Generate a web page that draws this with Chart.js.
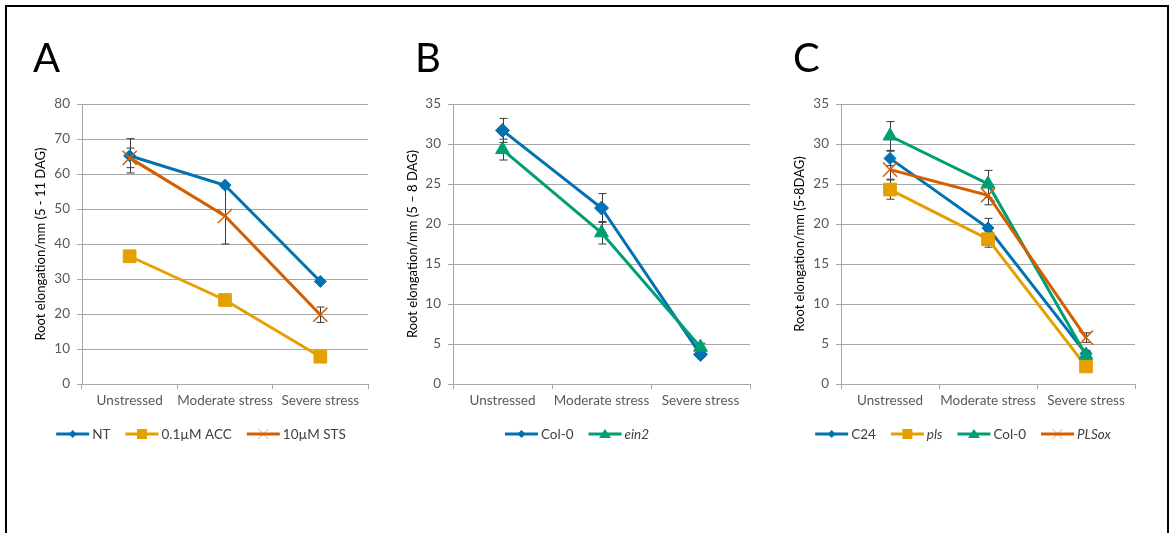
<!DOCTYPE html>
<html>
<head>
<meta charset="utf-8">
<script src="https://cdn.jsdelivr.net/npm/chart.js@4.4.0/dist/chart.umd.min.js"></script>
<style>
  body { margin: 0; background: #fff; width: 1171px; height: 533px; overflow: hidden; position: relative; }
  #frame { position: absolute; left: 5px; top: 5px; width: 1160px; height: 600px; border: 2px solid #000; border-bottom: none; }
  canvas { position: absolute; top: 20px; }
</style>
</head>
<body>
<div id="frame"></div>
<canvas id="chartA" style="left:20px"></canvas>
<canvas id="chartB" style="left:390px"></canvas>
<canvas id="chartC" style="left:770px"></canvas>
<script>
// categories shared by all three panels
const categories = ['Unstressed', 'Moderate stress', 'Severe stress'];

// Panel A
const ntMean  = [65.2, 56.8, 29.3];
const ntErr   = [4.9, 0, 0];
const accMean = [36.5, 24.0, 7.8];
const accErr  = [0, 0, 0];
const stsMean = [64.6, 48.0, 19.8];
const stsErr  = [2.8, 8.0, 2.2];
const ticksA  = [0, 10, 20, 30, 40, 50, 60, 70, 80];

// Panel B
const col0BMean = [31.7, 22.0, 3.7];
const col0BErr  = [1.5, 1.8, 0.3];
const ein2Mean  = [29.3, 18.9, 4.6];
const ein2Err   = [1.3, 1.4, 0.5];
const ticksB    = [0, 5, 10, 15, 20, 25, 30, 35];

// Panel C
const c24Mean   = [28.2, 19.5, 3.8];
const c24Err    = [0.9, 1.2, 0.4];
const plsMean   = [24.3, 18.1, 2.2];
const plsErr    = [1.2, 1.0, 0.3];
const col0CMean = [31.0, 25.0, 3.6];
const col0CErr  = [1.8, 1.7, 0.5];
const plsoxMean = [26.8, 23.6, 5.8];
const plsoxErr  = [1.2, 1.2, 0.6];
const ticksC    = [0, 5, 10, 15, 20, 25, 30, 35];

const BLUE = '#0072B2', GOLD = '#E69F00', GREEN = '#009E73', RED = '#D55E00';
const GRID = '#a6a6a6';
const FONT = 'Lato, "Open Sans", sans-serif';

// error bars, drawn under the lines
const errorBars = {
  id: 'errorBars',
  beforeDatasetsDraw(chart) {
    const ctx = chart.ctx, ys = chart.scales.y;
    ctx.save();
    ctx.strokeStyle = '#3a3a3a';
    ctx.lineWidth = 1;
    chart.data.datasets.forEach((ds, i) => {
      const meta = chart.getDatasetMeta(i);
      (ds.errors || []).forEach((e, j) => {
        if (!e) return;
        const x = Math.round(meta.data[j].x) + 0.5;
        const t = ys.getPixelForValue(ds.data[j] + e);
        const b = ys.getPixelForValue(ds.data[j] - e);
        ctx.beginPath();
        ctx.moveTo(x, t); ctx.lineTo(x, b);
        ctx.moveTo(x - 4, t); ctx.lineTo(x + 4, t);
        ctx.moveTo(x - 4, b); ctx.lineTo(x + 4, b);
        ctx.stroke();
      });
    });
    ctx.restore();
  }
};

function marker(ctx, style, color, x, y) {
  ctx.fillStyle = color;
  ctx.strokeStyle = color;
  ctx.beginPath();
  if (style === 'rectRot') {
    ctx.moveTo(x, y - 4); ctx.lineTo(x + 4, y); ctx.lineTo(x, y + 4); ctx.lineTo(x - 4, y);
    ctx.closePath(); ctx.fill();
  } else if (style === 'rect') {
    ctx.rect(x - 5, y - 5, 10, 10); ctx.fill();
  } else if (style === 'triangle') {
    ctx.moveTo(x, y - 5); ctx.lineTo(x + 6, y + 4); ctx.lineTo(x - 6, y + 4);
    ctx.closePath(); ctx.fill();
  } else {
    ctx.globalAlpha = 0.55;
    ctx.lineWidth = 1;
    ctx.moveTo(x - 5, y - 5); ctx.lineTo(x + 5, y + 5);
    ctx.moveTo(x + 5, y - 5); ctx.lineTo(x - 5, y + 5);
    ctx.stroke();
    ctx.globalAlpha = 1;
  }
}

// Excel-like legend (line with marker) and the panel letter
const panelDeco = {
  id: 'panelDeco',
  afterDraw(chart, args, opts) {
    const ctx = chart.ctx;
    ctx.save();
    ctx.fillStyle = '#000';
    ctx.font = '40px ' + FONT;
    ctx.textBaseline = 'alphabetic';
    ctx.fillText(opts.letter, opts.letterX, 52);

    const lineLen = 33, gap = 3, itemGap = 15, y = 414;
    const items = chart.data.datasets.map(ds => {
      const font = (ds.italic ? 'italic ' : '') + '13.5px ' + FONT;
      ctx.font = font;
      return { ds, font, w: ctx.measureText(ds.label).width };
    });
    const total = items.reduce((s, it) => s + lineLen + gap + it.w, 0) + itemGap * (items.length - 1);
    let x = opts.legendCenter - total / 2;
    items.forEach(it => {
      ctx.strokeStyle = it.ds.borderColor;
      ctx.lineWidth = 3;
      ctx.beginPath();
      ctx.moveTo(x, y); ctx.lineTo(x + lineLen, y);
      ctx.stroke();
      marker(ctx, it.ds.pointStyle, it.ds.borderColor, x + lineLen / 2, y);
      ctx.font = it.font;
      ctx.fillStyle = '#404040';
      ctx.textBaseline = 'middle';
      ctx.fillText(it.ds.label, x + lineLen + gap, y + 1);
      x += lineLen + gap + it.w + itemGap;
    });
    ctx.restore();
  }
};

function series(label, data, errors, color, style, radius, italic) {
  return {
    label, data, errors, italic,
    borderColor: color,
    backgroundColor: color,
    borderWidth: 3,
    tension: 0,
    pointStyle: style,
    pointRadius: radius,
    pointBackgroundColor: color,
    pointBorderColor: color,
    pointBorderWidth: style === 'crossRot' ? 1.5 : 1
  };
}

function makePanel(id, p) {
  const canvas = document.getElementById(id);
  canvas.width = p.width;
  canvas.height = 440;
  canvas.style.width = p.width + 'px';
  canvas.style.height = '440px';
  const n = p.datasets.length;
  p.datasets.forEach((ds, i) => { ds.order = n - i; });
  return new Chart(canvas, {
    type: 'line',
    data: { labels: categories, datasets: p.datasets },
    options: {
      responsive: false,
      animation: false,
      layout: { padding: { top: 84, right: p.padRight, left: 0, bottom: 0 } },
      plugins: {
        legend: { display: false },
        tooltip: { enabled: false },
        panelDeco: { letter: p.letter, letterX: p.letterX, legendCenter: p.legendCenter }
      },
      scales: {
        x: {
          offset: true,
          grid: { display: true, drawOnChartArea: false, offset: true, tickLength: 5, color: GRID },
          border: { color: GRID },
          ticks: { color: '#595959', font: { family: FONT, size: 13.5 }, padding: 4, maxRotation: 0, autoSkip: false },
          afterFit(s) { s.height = 76; }
        },
        y: {
          min: 0,
          max: p.ticks[p.ticks.length - 1],
          afterBuildTicks(s) { s.ticks = p.ticks.map(v => ({ value: v })); },
          grid: { color: GRID, tickLength: 5 },
          border: { color: GRID },
          ticks: { color: '#595959', font: { family: FONT, size: 13.5 }, padding: 7 },
          title: { display: true, text: p.yTitle, color: '#000', font: { family: FONT, size: 13 }, padding: p.titlePad },
          afterFit(s) { s.width = p.yWidth; }
        }
      }
    },
    plugins: [errorBars, panelDeco]
  });
}

makePanel('chartA', {
  width: 360, yWidth: 62, padRight: 12, letter: 'A', letterX: 13, legendCenter: 181,
  ticks: ticksA, yTitle: 'Root elongation/mm (5 - 11 DAG)', titlePad: 13,
  datasets: [
    series('NT', ntMean, ntErr, BLUE, 'rectRot', 6),
    series('0.1µM ACC', accMean, accErr, GOLD, 'rect', 9),
    series('10µM STS', stsMean, stsErr, RED, 'crossRot', 10)
  ]
});

makePanel('chartB', {
  width: 375, yWidth: 63, padRight: 15, letter: 'B', letterX: 25, legendCenter: 187,
  ticks: ticksB, yTitle: 'Root elongation/mm (5 \u2013 8 DAG)', titlePad: 15,
  datasets: [
    series('Col-0', col0BMean, col0BErr, BLUE, 'rectRot', 7),
    series('ein2', ein2Mean, ein2Err, GREEN, 'triangle', 8, true)
  ]
});

makePanel('chartC', {
  width: 380, yWidth: 71, padRight: 15, letter: 'C', letterX: 23, legendCenter: 193,
  ticks: ticksC, yTitle: 'Root elongation/mm (5-8DAG)', titlePad: 22,
  datasets: [
    series('C24', c24Mean, c24Err, BLUE, 'rectRot', 6),
    series('pls', plsMean, plsErr, GOLD, 'rect', 9, true),
    series('Col-0', col0CMean, col0CErr, GREEN, 'triangle', 8),
    series('PLSox', plsoxMean, plsoxErr, RED, 'crossRot', 10, true)
  ]
});
</script>
</body>
</html>
